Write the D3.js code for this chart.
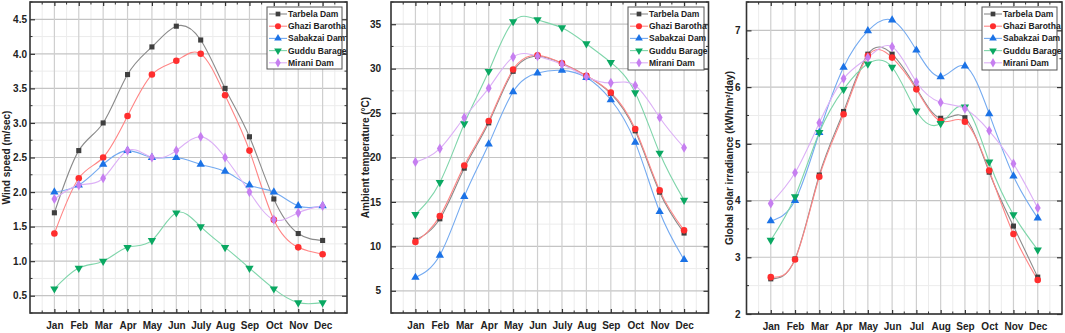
<!DOCTYPE html>
<html>
<head>
<meta charset="utf-8">
<script src="https://cdn.jsdelivr.net/npm/d3@7"></script>
<style>
  html, body { margin: 0; padding: 0; background: #fff; }
  svg { display: block; font-family: "Liberation Sans", Arial, sans-serif; }
</style>
</head>
<body>
<div id="chart"></div>
<script>
// series names shared by all three panels
const seriesNames = ["Tarbela Dam", "Ghazi Barotha", "Sabakzai Dam", "Guddu Barage", "Mirani Dam"];
const monthsA = ["Jan", "Feb", "Mar", "Apr", "May", "Jun", "July", "Aug", "Sep", "Oct", "Nov", "Dec"];
const monthsB = ["Jan", "Feb", "Mar", "Apr", "May", "Jun", "Jul", "Aug", "Sep", "Oct", "Nov", "Dec"];

// wind speed (m/sec)
const windTarbela  = [1.7, 2.6, 3.0, 3.7, 4.1, 4.4, 4.2, 3.5, 2.8, 1.9, 1.4, 1.3];
const windGhazi    = [1.4, 2.2, 2.5, 3.1, 3.7, 3.9, 4.0, 3.4, 2.6, 1.6, 1.2, 1.1];
const windSabakzai = [2.0, 2.1, 2.4, 2.6, 2.5, 2.5, 2.4, 2.3, 2.1, 2.0, 1.8, 1.8];
const windGuddu    = [0.6, 0.9, 1.0, 1.2, 1.3, 1.7, 1.5, 1.2, 0.9, 0.6, 0.4, 0.4];
const windMirani   = [1.9, 2.1, 2.2, 2.6, 2.5, 2.6, 2.8, 2.5, 2.0, 1.6, 1.7, 1.8];
const windTicks = [0.5, 1.0, 1.5, 2.0, 2.5, 3.0, 3.5, 4.0, 4.5];

// ambient temperature (°C)
const tempTarbela  = [10.7, 13.1, 18.8, 23.9, 29.7, 31.4, 30.6, 29.2, 27.2, 23.0, 16.1, 11.5];
const tempGhazi    = [10.5, 13.4, 19.1, 24.1, 29.9, 31.5, 30.6, 29.2, 27.3, 23.2, 16.3, 11.8];
const tempSabakzai = [6.5, 9.0, 15.6, 21.5, 27.4, 29.5, 29.8, 29.0, 26.5, 21.7, 13.9, 8.5];
const tempGuddu    = [13.6, 17.2, 23.8, 29.7, 35.3, 35.5, 34.6, 32.8, 30.7, 27.3, 20.5, 15.2];
const tempMirani   = [19.5, 21.0, 24.5, 27.8, 31.3, 31.4, 30.5, 29.1, 28.4, 28.1, 24.5, 21.1];
const tempTicks = [5, 10, 15, 20, 25, 30, 35];

// global solar irradiance (kWh/m2/day)
const solarTarbela  = [2.62, 2.97, 4.45, 5.57, 6.58, 6.58, 5.98, 5.45, 5.46, 4.50, 3.55, 2.65];
const solarGhazi    = [2.65, 2.96, 4.42, 5.52, 6.55, 6.52, 5.96, 5.40, 5.39, 4.53, 3.41, 2.60];
const solarSabakzai = [3.64, 4.00, 5.20, 6.35, 6.99, 7.18, 6.65, 6.18, 6.37, 5.53, 4.43, 3.69];
const solarGuddu    = [3.30, 4.07, 5.20, 5.96, 6.41, 6.35, 5.58, 5.36, 5.65, 4.68, 3.75, 3.13];
const solarMirani   = [3.95, 4.49, 5.37, 6.15, 6.52, 6.71, 6.09, 5.73, 5.62, 5.23, 4.65, 3.87];
const solarTicks = [2, 3, 4, 5, 6, 7];

const styles = [
  { marker: d3.symbolSquare,   size: 26, fill: "#3f3f3f", line: "#8a8a8a" },
  { marker: d3.symbolCircle,   size: 34, fill: "#ff2e2e", line: "#ff8585" },
  { marker: d3.symbolTriangle, size: 30, fill: "#1b72e6", line: "#74aaf0", rot: 0 },
  { marker: d3.symbolTriangle, size: 30, fill: "#0aa862", line: "#7fd5aa", rot: 180 },
  { marker: d3.symbolDiamond,  size: 30, fill: "#c67ff0", line: "#dcb0f6" },
];

const svg = d3.select("#chart").append("svg")
  .attr("width", 1065).attr("height", 333);

const panels = [
  { left: 30, right: 347, top: 2, bottom: 313, domain: [0.25, 4.75], ticks: windTicks, fmt: d3.format(".1f"),
    minor: 0.25, months: monthsA, labelGap: 3, ylabX: 6.5,
    ylab: "Wind speed (m/sec)",
    series: [windTarbela, windGhazi, windSabakzai, windGuddu, windMirani],
    legend: { x: 267, y: 7, w: 75, h: 62 } },
  { left: 391, right: 708.5, top: 2, bottom: 313, domain: [2.5, 37.5], ticks: tempTicks, fmt: d3.format("d"),
    minor: 2.5, months: monthsA, labelGap: 10, ylabX: 365,
    ylab: "Ambient temperature (°C)",
    series: [tempTarbela, tempGhazi, tempSabakzai, tempGuddu, tempMirani],
    legend: { x: 628, y: 7, w: 76, h: 63 } },
  { left: 746.5, right: 1062, top: 2, bottom: 314, domain: [2, 7.5], ticks: solarTicks, fmt: d3.format("d"),
    minor: 0.5, months: monthsB, labelGap: 6, ylabX: 729,
    ylab: "Global solar irradiance (kWh/m²/day)",
    series: [solarTarbela, solarGhazi, solarSabakzai, solarGuddu, solarMirani],
    legend: { x: 982, y: 7, w: 75, h: 63 } },
];

panels.forEach(drawPanel);

function drawPanel(p) {
  const x = d3.scaleLinear().domain([0, 13]).range([p.left, p.right]);
  const y = d3.scaleLinear().domain(p.domain).range([p.bottom, p.top]);
  const g = svg.append("g");

  // minor grid
  const minorY = d3.range(p.domain[0], p.domain[1] + 1e-9, p.minor).filter(v => !p.ticks.some(t => Math.abs(t - v) < 1e-9));
  g.append("g").selectAll("line").data(minorY).join("line")
    .attr("x1", p.left).attr("x2", p.right)
    .attr("y1", d => y(d)).attr("y2", d => y(d))
    .attr("stroke", "#ececec").attr("stroke-width", 1);
  g.append("g").selectAll("line").data(d3.range(0.5, 13, 1)).join("line")
    .attr("x1", d => x(d)).attr("x2", d => x(d))
    .attr("y1", p.top).attr("y2", p.bottom)
    .attr("stroke", "#ececec").attr("stroke-width", 1);

  // major grid
  g.append("g").selectAll("line").data(p.ticks).join("line")
    .attr("x1", p.left).attr("x2", p.right)
    .attr("y1", d => y(d)).attr("y2", d => y(d))
    .attr("stroke", "#c4c4c4").attr("stroke-width", 1.2);
  g.append("g").selectAll("line").data(d3.range(1, 13)).join("line")
    .attr("x1", d => x(d)).attr("x2", d => x(d))
    .attr("y1", p.top).attr("y2", p.bottom)
    .attr("stroke", "#cfcfcf").attr("stroke-width", 1.2);

  // axes with inward ticks
  const bottom = g.append("g").attr("transform", `translate(0,${p.bottom})`)
    .call(d3.axisBottom(x).tickValues(d3.range(1, 13)).tickSize(-4).tickPadding(9)
      .tickFormat(d => p.months[d - 1]));
  const left = g.append("g").attr("transform", `translate(${p.left},0)`)
    .call(d3.axisLeft(y).tickValues(p.ticks).tickSize(-5).tickPadding(p.labelGap).tickFormat(p.fmt));
  [bottom, left].forEach(a => {
    a.select(".domain").remove();
    a.selectAll(".tick line").attr("stroke", "#333").attr("stroke-width", 1.2);
    a.selectAll("text").attr("font-size", 10).attr("font-weight", "bold").attr("fill", "#222");
  });
  const top = g.append("g").attr("transform", `translate(0,${p.top})`)
    .call(d3.axisTop(x).tickValues(d3.range(1, 13)).tickSize(-4).tickFormat(""));
  const right = g.append("g").attr("transform", `translate(${p.right},0)`)
    .call(d3.axisRight(y).tickValues(p.ticks).tickSize(-5).tickFormat(""));
  [top, right].forEach(a => {
    a.select(".domain").remove();
    a.selectAll(".tick line").attr("stroke", "#333").attr("stroke-width", 1.2);
  });
  // minor ticks
  g.append("g").selectAll("line").data(d3.range(0.5, 13, 1)).join("line")
    .attr("x1", d => x(d)).attr("x2", d => x(d))
    .attr("y1", p.bottom).attr("y2", p.bottom - 2.5)
    .attr("stroke", "#333").attr("stroke-width", 1);
  g.append("g").selectAll("line").data(d3.range(0.5, 13, 1)).join("line")
    .attr("x1", d => x(d)).attr("x2", d => x(d))
    .attr("y1", p.top).attr("y2", p.top + 2.5)
    .attr("stroke", "#333").attr("stroke-width", 1);
  g.append("g").selectAll("line").data(minorY).join("line")
    .attr("x1", p.left).attr("x2", p.left + 2.5)
    .attr("y1", d => y(d)).attr("y2", d => y(d))
    .attr("stroke", "#333").attr("stroke-width", 1);
  g.append("g").selectAll("line").data(minorY).join("line")
    .attr("x1", p.right).attr("x2", p.right - 2.5)
    .attr("y1", d => y(d)).attr("y2", d => y(d))
    .attr("stroke", "#333").attr("stroke-width", 1);

  // frame
  g.append("rect")
    .attr("x", p.left).attr("y", p.top)
    .attr("width", p.right - p.left).attr("height", p.bottom - p.top)
    .attr("fill", "none").attr("stroke", "#333").attr("stroke-width", 1.6);

  // y label
  g.append("text")
    .attr("transform", `translate(${p.ylabX},${(p.top + p.bottom) / 2}) rotate(-90)`)
    .attr("text-anchor", "middle").attr("dominant-baseline", "central")
    .attr("font-size", 10).attr("font-weight", "bold").attr("fill", "#222")
    .text(p.ylab);

  // series
  const line = d3.line().x((d, i) => x(i + 1)).y(d => y(d)).curve(d3.curveNatural);
  p.series.forEach((vals, k) => {
    const s = styles[k];
    g.append("path").datum(vals)
      .attr("d", line)
      .attr("fill", "none").attr("stroke", s.line).attr("stroke-width", 1.1);
  });
  p.series.forEach((vals, k) => {
    const s = styles[k];
    g.append("g").selectAll("path").data(vals).join("path")
      .attr("d", d3.symbol(s.marker, s.size))
      .attr("transform", (d, i) => `translate(${x(i + 1)},${y(d)}) rotate(${s.rot || 0})`)
      .attr("fill", s.fill);
  });

  // legend
  const L = p.legend;
  const lg = g.append("g").attr("transform", `translate(${L.x},${L.y})`);
  lg.append("rect").attr("width", L.w).attr("height", L.h)
    .attr("fill", "#fff").attr("stroke", "#555").attr("stroke-width", 1);
  seriesNames.forEach((name, k) => {
    const s = styles[k];
    const yy = 7 + k * 12.2;
    lg.append("line").attr("x1", 2).attr("x2", 20).attr("y1", yy).attr("y2", yy)
      .attr("stroke", s.line).attr("stroke-width", 1.1);
    lg.append("path").attr("d", d3.symbol(s.marker, s.size * 0.85))
      .attr("transform", `translate(11,${yy}) rotate(${s.rot || 0})`)
      .attr("fill", s.fill);
    lg.append("text").attr("x", 21).attr("y", yy).attr("dominant-baseline", "central")
      .attr("font-size", 8.5).attr("font-weight", "bold").attr("fill", "#222")
      .text(name);
  });
}
</script>
</body>
</html>
